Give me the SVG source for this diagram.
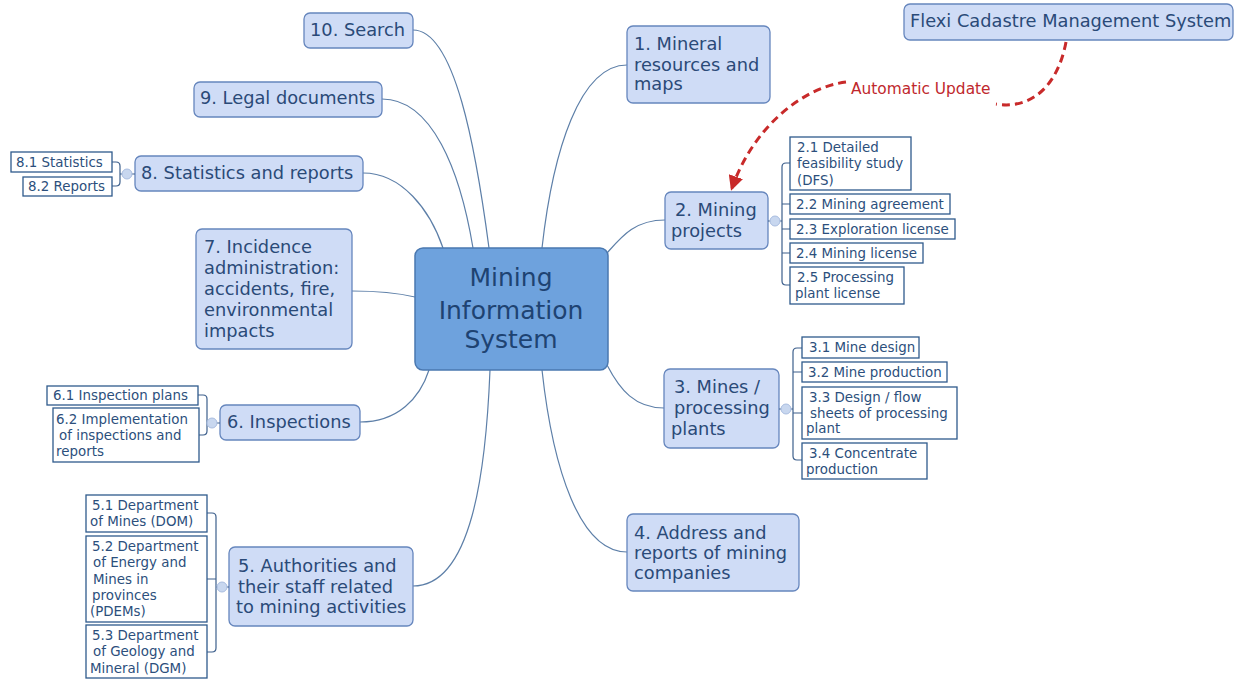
<svg xmlns="http://www.w3.org/2000/svg" width="1234" height="680" viewBox="0 0 1234 680">
<defs>
<style>
.n rect{fill:#cfdcf6;stroke:#6686bd;stroke-width:1.3}
.n text{font-family:"DejaVu Sans",Verdana,sans-serif;font-size:17.8px;fill:#2a4a78}
.s rect{fill:#ffffff;stroke:#2f5a8c;stroke-width:1.3}
.s text{font-family:"DejaVu Sans",Verdana,sans-serif;font-size:13.4px;fill:#2c4f7c}
.c path{fill:none;stroke:#5d7fa8;stroke-width:1.2}
.b{fill:none;stroke:#3d5f8c;stroke-width:1.2}
.k{fill:#c8d7ef;stroke:#a9bde0;stroke-width:1}
</style>
<marker id="ah" viewBox="0 0 10 10" refX="8" refY="5" markerWidth="5" markerHeight="5" orient="auto">
<path d="M0,0 L10,5 L0,10 z" fill="#c82a2a"/>
</marker>
</defs>
<rect width="1234" height="680" fill="#ffffff"/>

<g id="connectors" class="c">
<path d="M413,30 C455,30 476,150 489,248"/>
<path d="M382,99 C432,99 460,170 473,248"/>
<path d="M363,173 C402,173 430,210 443,248"/>
<path d="M352,291 C380,291 398,293 415,297"/>
<path d="M360,422 C398,422 420,398 429,370"/>
<path d="M413,586 C472,586 486,470 490,370"/>
<path d="M627,552 C580,552 553,470 542,370"/>
<path d="M664,408 C635,408 620,390 607,365"/>
<path d="M665,220 C635,220 622,236 607,253"/>
<path d="M627,65 C580,65 553,150 542,248"/>
<path d="M1066,42 C1058,85 1032,110 996,104" style="stroke:#c82a2a;stroke-width:3;stroke-dasharray:8,5"/>
<path d="M846,82 C800,88 752,130 732,188" style="stroke:#c82a2a;stroke-width:3;stroke-dasharray:8,5" marker-end="url(#ah)"/>
</g>
<text x="851" y="94" font-family="'DejaVu Sans',sans-serif" font-size="15.4" fill="#c0282d">Automatic Update</text>

<g id="center">
<rect x="415" y="248" width="193" height="122" rx="8" fill="#6ea2dd" stroke="#4a78b0" stroke-width="1.5"/>
<g font-family="'DejaVu Sans',Verdana,sans-serif" font-size="25" fill="#1e4372" text-anchor="middle">
<text x="511" y="286">Mining</text>
<text x="511" y="319">Information</text>
<text x="511" y="348">System</text>
</g>
</g>

<g id="flexi" class="n"><rect x="904" y="4" width="329" height="36" rx="6"/><text x="910" y="27">Flexi Cadastre Management System</text></g>

<g id="n1" class="n"><rect x="627" y="26" width="143" height="77" rx="6"/><text x="634" y="50">1. Mineral</text><text x="634" y="71">resources and</text><text x="634" y="90">maps</text></g>

<g id="n2" class="n"><rect x="665" y="192" width="103" height="57" rx="6"/><text x="675" y="216">2. Mining</text><text x="671" y="237">projects</text></g>

<g id="n3" class="n"><rect x="664" y="369" width="115" height="79" rx="6"/><text x="674" y="393">3. Mines /</text><text x="674" y="414">processing</text><text x="671" y="435">plants</text></g>

<g id="n4" class="n"><rect x="627" y="514" width="172" height="77" rx="6"/><text x="634" y="539">4. Address and</text><text x="634" y="559">reports of mining</text><text x="634" y="579">companies</text></g>

<g id="n5" class="n"><rect x="229" y="547" width="184" height="79" rx="6"/><text x="238" y="572">5. Authorities and</text><text x="238" y="593">their staff related</text><text x="236" y="613">to mining activities</text></g>

<g id="n6" class="n"><rect x="220" y="405" width="140" height="35" rx="6"/><text x="227" y="428">6. Inspections</text></g>

<g id="n7" class="n"><rect x="196" y="229" width="156" height="120" rx="6"/><text x="204" y="253">7. Incidence</text><text x="204" y="274">administration:</text><text x="204" y="295">accidents, fire,</text><text x="204" y="316">environmental</text><text x="204" y="337">impacts</text></g>

<g id="n8" class="n"><rect x="135" y="156" width="228" height="35" rx="6"/><text x="141" y="179">8. Statistics and reports</text></g>

<g id="n9" class="n"><rect x="194" y="82" width="188" height="35" rx="6"/><text x="200" y="104">9. Legal documents</text></g>

<g id="n10" class="n"><rect x="304" y="13" width="109" height="35" rx="6"/><text x="310" y="36">10. Search</text></g>

<g id="brackets">
<path class="b" d="M768,221 H782 M790,163 H786 Q782,163 782,167 V281 Q782,285 786,285 H790 M782,204 H790 M782,229 H790 M782,253 H790"/>
<circle class="k" cx="775" cy="221" r="5"/>
<path class="b" d="M779,409 H793 M802,348 H797 Q793,348 793,352 V456 Q793,460 797,460 H802 M793,372 H802 M793,413 H802"/>
<circle class="k" cx="786" cy="409" r="5"/>
<path class="b" d="M135,174 H120 M112,162 H116 Q120,162 120,166 V182 Q120,186 116,186 H112"/>
<circle class="k" cx="127" cy="174" r="5"/>
<path class="b" d="M220,423 H207 M198,395 H203 Q207,395 207,399 V431 Q207,435 203,435 H199"/>
<circle class="k" cx="212" cy="423" r="5"/>
<path class="b" d="M229,587 H216 M207,513 H212 Q216,513 216,517 V648 Q216,652 212,652 H207 M216,579 H207"/>
<circle class="k" cx="222" cy="587" r="5"/>
</g>

<g id="s21" class="s"><rect x="790" y="137" width="121" height="53"/><text x="797" y="152">2.1 Detailed</text><text x="797" y="168">feasibility study</text><text x="797" y="185">(DFS)</text></g>
<g id="s22" class="s"><rect x="790" y="194" width="160" height="20"/><text x="796" y="209">2.2 Mining agreement</text></g>
<g id="s23" class="s"><rect x="790" y="219" width="165" height="20"/><text x="796" y="234">2.3 Exploration license</text></g>
<g id="s24" class="s"><rect x="790" y="243" width="133" height="20"/><text x="796" y="258">2.4 Mining license</text></g>
<g id="s25" class="s"><rect x="790" y="267" width="114" height="37"/><text x="797" y="282">2.5 Processing</text><text x="795" y="298">plant license</text></g>

<g id="s31" class="s"><rect x="802" y="337" width="117" height="21"/><text x="809" y="352">3.1 Mine design</text></g>
<g id="s32" class="s"><rect x="802" y="362" width="145" height="20"/><text x="808" y="377">3.2 Mine production</text></g>
<g id="s33" class="s"><rect x="802" y="387" width="155" height="52"/><text x="809" y="402">3.3 Design / flow</text><text x="810" y="418">sheets of processing</text><text x="806" y="433">plant</text></g>
<g id="s34" class="s"><rect x="802" y="443" width="125" height="36"/><text x="809" y="458">3.4 Concentrate</text><text x="806" y="474">production</text></g>

<g id="s81" class="s"><rect x="11" y="152" width="101" height="20"/><text x="16" y="167">8.1 Statistics</text></g>
<g id="s82" class="s"><rect x="23" y="177" width="89" height="19"/><text x="28" y="191">8.2 Reports</text></g>

<g id="s61" class="s"><rect x="47" y="386" width="151" height="19"/><text x="53" y="400">6.1 Inspection plans</text></g>
<g id="s62" class="s"><rect x="53" y="408" width="146" height="54"/><text x="56" y="424">6.2 Implementation</text><text x="59" y="440">of inspections and</text><text x="56" y="456">reports</text></g>

<g id="s51" class="s"><rect x="86" y="495" width="121" height="37"/><text x="92" y="510">5.1 Department</text><text x="90" y="526">of Mines (DOM)</text></g>
<g id="s52" class="s"><rect x="86" y="536" width="121" height="86"/><text x="92" y="551">5.2 Department</text><text x="93" y="567">of Energy and</text><text x="93" y="584">Mines in</text><text x="92" y="600">provinces</text><text x="90" y="616">(PDEMs)</text></g>
<g id="s53" class="s"><rect x="86" y="625" width="121" height="53"/><text x="92" y="640">5.3 Department</text><text x="93" y="656">of Geology and</text><text x="90" y="673">Mineral (DGM)</text></g>
</svg>
